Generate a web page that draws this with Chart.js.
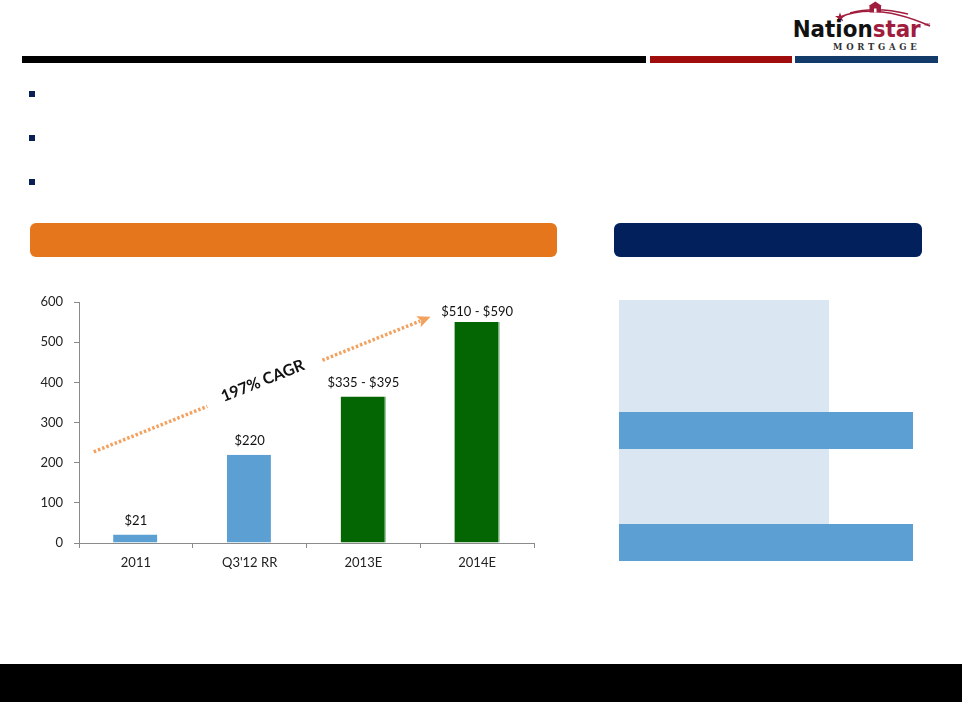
<!DOCTYPE html>
<html>
<head>
<meta charset="utf-8">
<script src="https://cdn.jsdelivr.net/npm/chart.js@4.4.1/dist/chart.umd.min.js"></script>
<style>
  body { margin: 0; background: #fff; }
  #slide { position: relative; width: 962px; height: 702px; overflow: hidden; background: #fff; }
  .box { position: absolute; }
  #chart { position: absolute; left: 0; top: 280px; }
</style>
</head>
<body>
<div id="slide">
  <!-- logo -->
  <svg class="box" style="left:780px;top:0" width="160" height="56">
    <path d="M60 17 Q96 2 150 26" stroke="#A11D3D" stroke-width="1.6" fill="none"/>
    <path d="M70 13 Q96 6 128 14" stroke="#A11D3D" stroke-width="1.4" fill="none"/>
    <polygon points="60,12.5 61.3,16 65,16 62,18.2 63.2,21.6 60,19.5 56.8,21.6 58,18.2 55,16 58.7,16" fill="#A11D3D"/>
    <polygon points="88.5,6 95.3,1.5 102,6" fill="#A11D3D"/>
    <rect x="89.5" y="6" width="11.5" height="6.5" fill="#A11D3D"/>
    <rect x="94" y="8.5" width="2.5" height="4" fill="#fff"/>
    <text x="12.7" y="37" font-family="DejaVu Sans" font-weight="bold" font-size="23" textLength="128" lengthAdjust="spacingAndGlyphs" fill="#111">Nation<tspan fill="#A11D3D">star</tspan></text>
    <text x="144" y="26" font-family="DejaVu Sans" font-size="4" fill="#A11D3D">SM</text>
    <text x="53" y="49.5" font-family="DejaVu Serif" font-weight="bold" font-size="8.5" textLength="83.7" lengthAdjust="spacing" fill="#333">MORTGAGE</text>
  </svg>

  <!-- header rule -->
  <div class="box" style="left:22px;top:56px;width:624px;height:7px;background:#000"></div>
  <div class="box" style="left:650px;top:56px;width:142px;height:7px;background:#A00D0D"></div>
  <div class="box" style="left:795px;top:56px;width:143px;height:7px;background:#123B6A"></div>

  <!-- bullets -->
  <div class="box" style="left:29px;top:91px;width:6px;height:6px;background:#0B1F57"></div>
  <div class="box" style="left:29px;top:135px;width:6px;height:6px;background:#0B1F57"></div>
  <div class="box" style="left:29px;top:179px;width:6px;height:6px;background:#0B1F57"></div>

  <!-- section headers -->
  <div class="box" style="left:30px;top:223px;width:527px;height:34px;border-radius:6px;background:#E5761B"></div>
  <div class="box" style="left:614px;top:223px;width:308px;height:34px;border-radius:6px;background:#02205B"></div>

  <!-- right table -->
  <div class="box" style="left:619px;top:300px;width:210px;height:224px;background:#DAE7F2"></div>
  <div class="box" style="left:619px;top:412px;width:294px;height:37px;background:#5B9FD3"></div>
  <div class="box" style="left:619px;top:524px;width:294px;height:37px;background:#5B9FD3"></div>

  <!-- footer band -->
  <div class="box" style="left:0;top:664px;width:962px;height:38px;background:#000"></div>

  <canvas id="chart" width="560" height="310"></canvas>
</div>
<script>
var categories = ['2011', "Q3'12 RR", '2013E', '2014E'];
var revenue = [21, 220, 365, 550];
var barLabels = ['$21', '$220', '$335 - $395', '$510 - $590'];
var barColors = ['#5B9FD3', '#5B9FD3', '#036603', '#036603'];
var yTicks = [0, 100, 200, 300, 400, 500, 600];

// CAGR arrow, in chart units (category index, value)
var cagrFrom = [-0.37, 227];
var cagrTo = [2.59, 563];
var cagrText = '197% CAGR';

var FONT = 'Lato, "Open Sans", sans-serif';

var labelPlugin = {
    id: 'barLabels',
    afterDatasetsDraw: function(chart){
        var ctx = chart.ctx;
        var meta = chart.getDatasetMeta(0);
        ctx.save();
        ctx.font = '13px ' + FONT;
        ctx.fillStyle = '#111';
        ctx.textAlign = 'center';
        ctx.textBaseline = 'bottom';
        meta.data.forEach(function(bar, i){
            ctx.fillText(barLabels[i], bar.x, bar.y - (i === 3 ? 4 : 7));
        });
        ctx.restore();
    }
};

var arrowPlugin = {
    id: 'cagrArrow',
    afterDraw: function(chart){
        var xs = chart.scales.x, ys = chart.scales.y, ctx = chart.ctx;
        var x0 = xs.getPixelForValue(cagrFrom[0]), y0 = ys.getPixelForValue(cagrFrom[1]);
        var x1 = xs.getPixelForValue(cagrTo[0]), y1 = ys.getPixelForValue(cagrTo[1]);
        var dx = x1 - x0, dy = y1 - y0;
        var len = Math.sqrt(dx * dx + dy * dy);
        var ux = dx / len, uy = dy / len;
        var ang = Math.atan2(dy, dx);
        function pt(t){ return [x0 + dx * t, y0 + dy * t]; }
        var head = 13;
        var tEnd = (len - head + 2) / len;

        ctx.save();
        ctx.strokeStyle = '#F3A15E';
        ctx.lineWidth = 3.5;
        ctx.setLineDash([2.5, 2]);
        var a = pt(0), b = pt(0.337), c = pt(0.679), d = pt(tEnd);
        ctx.beginPath();
        ctx.moveTo(a[0], a[1]); ctx.lineTo(b[0], b[1]);
        ctx.moveTo(c[0], c[1]); ctx.lineTo(d[0], d[1]);
        ctx.stroke();
        ctx.setLineDash([]);

        // arrow head
        ctx.fillStyle = '#F3A15E';
        var bx = x1 - ux * head, by = y1 - uy * head;
        ctx.beginPath();
        ctx.moveTo(x1, y1);
        ctx.lineTo(bx - uy * 6, by + ux * 6);
        ctx.lineTo(bx + ux * 3, by + uy * 3);
        ctx.lineTo(bx + uy * 6, by - ux * 6);
        ctx.closePath();
        ctx.fill();

        // label along the arrow
        var m = pt(0.505);
        ctx.translate(m[0] + uy * 3, m[1] - ux * 3);
        ctx.rotate(ang);
        ctx.font = 'bold 16px ' + FONT;
        ctx.fillStyle = '#111';
        ctx.textAlign = 'center';
        ctx.textBaseline = 'middle';
        ctx.fillText(cagrText, 0, 0);
        ctx.restore();
    }
};

new Chart(document.getElementById('chart').getContext('2d'), {
    type: 'bar',
    data: {
        labels: categories,
        datasets: [{
            label: 'Revenue',
            data: revenue,
            backgroundColor: barColors,
            borderColor: ['rgba(0,0,0,0)', 'rgba(0,0,0,0)', '#9CC79C', '#9CC79C'],
            borderWidth: {right: 1.5, left: 0, top: 0, bottom: 0},
            borderSkipped: false,
            barPercentage: 0.4,
            categoryPercentage: 1
        }]
    },
    options: {
        responsive: false,
        animation: false,
        events: [],
        layout: {padding: {left: 0, right: 26, top: 22, bottom: 0}},
        plugins: {legend: {display: false}, tooltip: {enabled: false}},
        scales: {
            x: {
                grid: {offset: true, drawOnChartArea: false, tickLength: 5, color: '#8a8a8a'},
                border: {color: '#8a8a8a'},
                ticks: {color: '#222', font: {family: FONT, size: 13}, padding: 7},
                afterFit: function(s){ s.height = 47; }
            },
            y: {
                min: 0,
                max: 600,
                afterBuildTicks: function(s){ s.ticks = yTicks.map(function(v){ return {value: v}; }); },
                grid: {drawOnChartArea: false, tickLength: 5, color: '#8a8a8a'},
                border: {color: '#8a8a8a'},
                ticks: {color: '#222', font: {family: FONT, size: 13}, padding: 11},
                afterFit: function(s){ s.width = 79; }
            }
        }
    },
    plugins: [labelPlugin, arrowPlugin]
});
</script>
</body>
</html>
